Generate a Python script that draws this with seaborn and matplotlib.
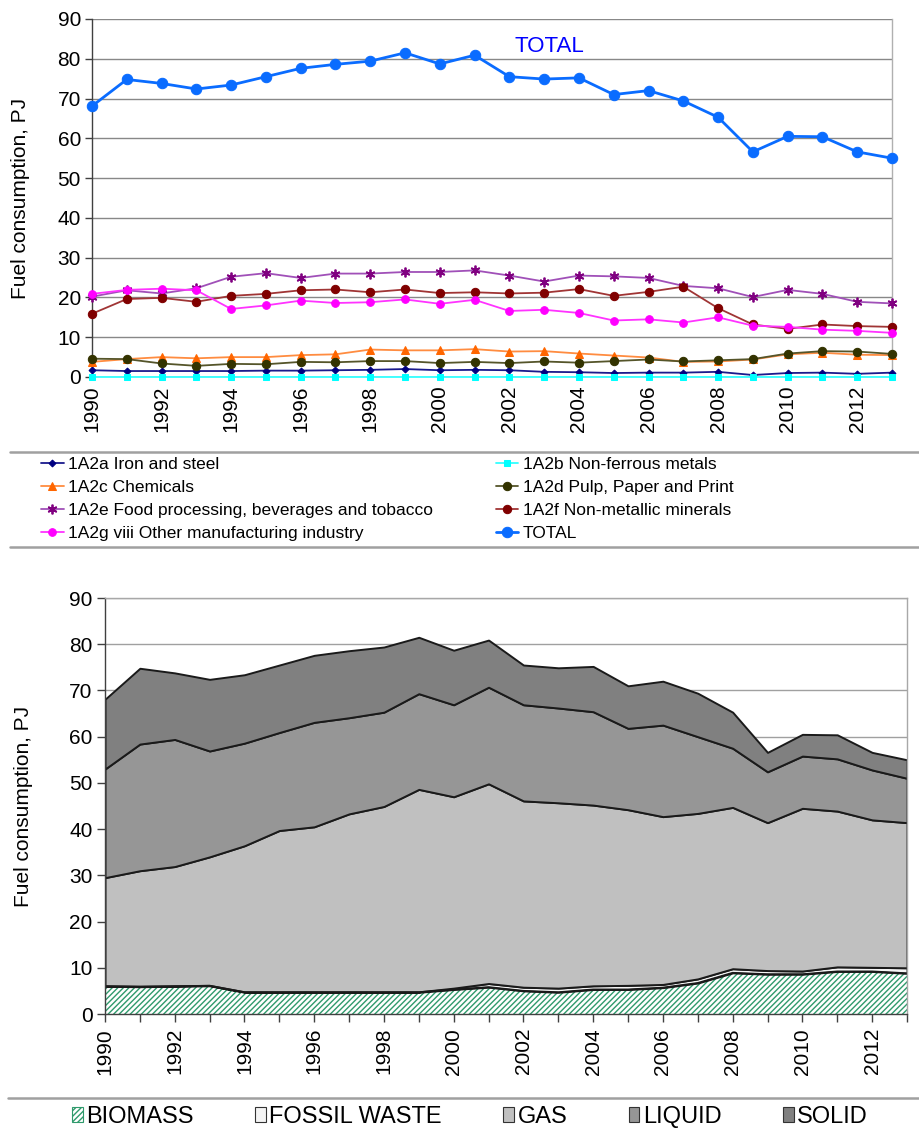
import numpy as np
import pandas as pd
import matplotlib
matplotlib.use("Agg")
import matplotlib.pyplot as plt
import seaborn as sns
from matplotlib.lines import Line2D

# ---------------- data ----------------
years = list(range(1990, 2014))

iron_steel = [1.7, 1.5, 1.5, 1.5, 1.5, 1.6, 1.6, 1.7, 1.8, 2.0, 1.7, 1.8, 1.7, 1.3, 1.2, 1.0, 1.1, 1.1, 1.3, 0.5, 1.0, 1.1, 0.8, 1.1]
non_ferrous = [0.1, 0.1, 0.1, 0.1, 0.1, 0.1, 0.1, 0.1, 0.1, 0.1, 0.1, 0.1, 0.1, 0.1, 0.1, 0.1, 0.1, 0.1, 0.1, 0.1, 0.1, 0.1, 0.1, 0.1]
chemicals = [3.8, 4.5, 5.0, 4.7, 5.0, 5.0, 5.5, 5.7, 6.9, 6.7, 6.7, 7.0, 6.4, 6.5, 5.9, 5.4, 4.9, 3.8, 3.9, 4.4, 5.7, 6.1, 5.6, 5.5]
pulp_paper = [4.6, 4.5, 3.4, 2.8, 3.3, 3.2, 3.8, 3.7, 4.0, 4.0, 3.5, 3.8, 3.5, 3.9, 3.6, 4.0, 4.4, 3.9, 4.2, 4.5, 5.9, 6.5, 6.4, 5.8]
food = [20.2, 21.8, 21.0, 22.3, 25.2, 26.1, 24.9, 26.0, 26.0, 26.4, 26.4, 26.8, 25.5, 24.0, 25.5, 25.3, 24.9, 22.9, 22.3, 20.1, 21.9, 20.9, 18.9, 18.5]
non_metallic = [15.9, 19.6, 19.9, 18.9, 20.4, 20.9, 21.8, 22.0, 21.3, 22.0, 21.1, 21.3, 21.0, 21.2, 22.1, 20.4, 21.4, 22.7, 17.3, 13.2, 12.1, 13.2, 12.8, 12.6]
other_manuf = [20.9, 21.9, 22.2, 21.8, 17.1, 18.0, 19.2, 18.6, 18.8, 19.5, 18.4, 19.4, 16.6, 16.9, 16.1, 14.2, 14.5, 13.7, 15.0, 12.9, 12.6, 11.9, 11.6, 11.1]
total = [68.1, 74.8, 73.8, 72.4, 73.4, 75.5, 77.6, 78.6, 79.4, 81.5, 78.7, 80.9, 75.5, 74.9, 75.2, 71.0, 72.0, 69.4, 65.3, 56.6, 60.5, 60.4, 56.6, 55.0]

biomass = [6.0, 5.9, 6.0, 6.1, 4.7, 4.7, 4.7, 4.7, 4.7, 4.7, 5.3, 5.8, 5.0, 4.7, 5.3, 5.3, 5.7, 6.7, 8.9, 8.6, 8.6, 9.2, 9.2, 8.8]
fossil_waste = [0.1, 0.1, 0.1, 0.1, 0.1, 0.1, 0.1, 0.1, 0.1, 0.1, 0.3, 0.8, 0.8, 0.9, 0.8, 0.9, 0.7, 0.9, 0.9, 0.8, 0.7, 1.0, 0.9, 1.2]
gas = [23.4, 25.0, 25.8, 27.8, 31.6, 34.9, 35.7, 38.5, 40.1, 43.8, 41.4, 43.2, 40.3, 40.1, 39.1, 38.0, 36.3, 35.8, 34.9, 32.0, 35.2, 33.7, 31.9, 31.4]
liquid = [23.5, 27.4, 27.5, 22.9, 22.2, 21.2, 22.6, 20.8, 20.4, 20.7, 19.9, 20.9, 20.8, 20.5, 20.2, 17.6, 19.8, 16.6, 12.8, 11.0, 11.3, 11.3, 10.8, 9.6]
solid = [15.1, 16.4, 14.4, 15.5, 14.8, 14.6, 14.5, 14.5, 14.1, 12.2, 11.8, 10.2, 8.6, 8.7, 9.8, 9.2, 9.5, 9.4, 7.8, 4.2, 4.7, 5.2, 3.8, 4.0]

year_ticks = list(range(1990, 2013, 2))
y_ticks = list(range(0, 91, 10))

# ---------------- style ----------------
sns.set_theme(style="white")
plt.rcParams["font.family"] = ["Liberation Sans", "DejaVu Sans"]
plt.rcParams["hatch.linewidth"] = 1.0
plt.rcParams["text.color"] = "black"
plt.rcParams["axes.labelcolor"] = "black"
plt.rcParams["xtick.color"] = "black"
plt.rcParams["ytick.color"] = "black"

fig = plt.figure(figsize=(9.19, 11.31), dpi=100)
W, H = 919, 1131

def fx(px):
    return px / W

def fy(py):
    return 1 - py / H

# ---------------- top chart ----------------
ax1 = fig.add_axes([fx(92), fy(377), fx(892) - fx(92), fy(19) - fy(377)])

series = [
    ("1A2a Iron and steel", iron_steel, dict(color="#1a1a8c", marker="D", markersize=3.5, mfc="#000080", mec="#000080", lw=1.3)),
    ("1A2b Non-ferrous metals", non_ferrous, dict(color="#33ffff", marker="s", markersize=5, mfc="#00ffff", mec="#00ffff", lw=1.3)),
    ("1A2c Chemicals", chemicals, dict(color="#ff8c40", marker="^", markersize=6, mfc="#ff6600", mec="#ff6600", lw=1.3)),
    ("1A2d Pulp, Paper and Print", pulp_paper, dict(color="#55552a", marker="o", markersize=6, mfc="#333300", mec="#333300", lw=1.3)),
    ("1A2e Food processing, beverages and tobacco", food, dict(color="#a050b8", marker=(6, 2, 0), markersize=7, mfc="#800080", mec="#800080", mew=1.3, lw=1.3)),
    ("1A2f Non-metallic minerals", non_metallic, dict(color="#a03535", marker="o", markersize=6, mfc="#800000", mec="#800000", lw=1.3)),
    ("1A2g viii Other manufacturing industry", other_manuf, dict(color="#ff33ff", marker="o", markersize=5.5, mfc="#ff00ff", mec="#ff00ff", lw=1.3)),
    ("TOTAL", total, dict(color="#0a6cff", marker="o", markersize=7.5, mfc="#0a6cff", mec="#0a6cff", lw=2.0)),
]

for name, vals, kw in series:
    df = pd.DataFrame({"year": years, "value": vals})
    sns.lineplot(data=df, x="year", y="value", ax=ax1, label=name, legend=False,
                 clip_on=False, zorder=3, **kw)

if ax1.get_legend() is not None:
    ax1.get_legend().remove()

ax1.set_xlim(1990, 2013)
ax1.set_ylim(0, 90)
ax1.set_xticks(year_ticks)
ax1.set_xticklabels([str(y) for y in year_ticks], rotation=90, fontsize=15)
ax1.set_yticks(y_ticks)
ax1.set_yticklabels([str(v) for v in y_ticks], fontsize=15)
ax1.set_xlabel("")
ax1.set_ylabel("Fuel consumption, PJ", fontsize=15, color="black")
ax1.yaxis.set_label_coords(-0.078, 0.5)
ax1.grid(axis="y", color="#888888", lw=1.0)
ax1.set_axisbelow(True)
for s in ["top", "bottom"]:
    ax1.spines[s].set_visible(False)
ax1.spines["left"].set_color("#404040")
ax1.spines["left"].set_linewidth(1.0)
ax1.spines["right"].set_color("#b0b0b0")
ax1.spines["right"].set_linewidth(1.0)
ax1.tick_params(axis="y", left=True, length=5, width=1, color="#404040", pad=3, labelcolor="black")
ax1.tick_params(axis="x", bottom=False, length=0, pad=6, labelcolor="black")
ax1.text(2002.15, 83.0, "TOTAL", color="#0000ff", fontsize=16, va="center", ha="left")

handles, labels = ax1.get_legend_handles_labels()
order = [0, 2, 4, 6, 1, 3, 5, 7]
fig.legend([handles[i] for i in order], [labels[i] for i in order],
           loc="upper left", bbox_to_anchor=(fx(36), fy(452)), ncol=2, frameon=False,
           fontsize=12.5, handlelength=1.3, handletextpad=0.25, columnspacing=3.6,
           labelspacing=0.45, borderaxespad=0, borderpad=0.3)

fig.add_artist(Line2D([fx(10), fx(919)], [fy(452), fy(452)], color="#a0a0a0", lw=1.8))
fig.add_artist(Line2D([fx(10), fx(919)], [fy(547), fy(547)], color="#a0a0a0", lw=1.8))

# ---------------- bottom chart ----------------
ax2 = fig.add_axes([fx(105), fy(1014), fx(907) - fx(105), fy(598) - fy(1014)])
layer_names = ["BIOMASS", "FOSSIL WASTE", "GAS", "LIQUID", "SOLID"]
layer_colors = ["#ffffff", "#f4f4f4", "#c0c0c0", "#969696", "#808080"]
polys = ax2.stackplot(years, biomass, fossil_waste, gas, liquid, solid,
                      labels=layer_names, colors=layer_colors,
                      edgecolor="#1a1a1a", linewidth=1.4)
polys[0].set_hatch("//////")
polys[0].set_edgecolor("#2f9a6c")
polys[0].set_linewidth(0)
sns.lineplot(x=years, y=biomass, ax=ax2, color="#1a1a1a", lw=1.4, legend=False)
if ax2.get_legend() is not None:
    ax2.get_legend().remove()

ax2.set_xlim(1990, 2013)
ax2.set_ylim(0, 90)
ax2.set_xticks(years, minor=True)
ax2.set_xticks(year_ticks)
ax2.set_xticklabels([str(y) for y in year_ticks], rotation=90, fontsize=15)
ax2.set_yticks(y_ticks)
ax2.set_yticklabels([str(v) for v in y_ticks], fontsize=15)
ax2.set_ylabel("Fuel consumption, PJ", fontsize=15, color="black")
ax2.yaxis.set_label_coords(-0.09, 0.5)
ax2.grid(axis="y", color="#a0a0a0", lw=1.0)
ax2.set_axisbelow(True)
for s in ["top", "right"]:
    ax2.spines[s].set_color("#a8a8a8")
    ax2.spines[s].set_linewidth(1.0)
for s in ["left", "bottom"]:
    ax2.spines[s].set_color("#404040")
    ax2.spines[s].set_linewidth(1.0)
ax2.tick_params(axis="x", which="both", bottom=True, length=6, width=1, color="#404040", pad=4, labelcolor="black")
ax2.tick_params(axis="y", left=True, length=6, width=1, color="#404040", pad=3, labelcolor="black")

h2, l2 = ax2.get_legend_handles_labels()
h2 = [h for h, l in zip(h2, l2) if l in layer_names]
l2 = [l for l in l2 if l in layer_names]
leg2 = fig.legend(h2, l2, loc="center", bbox_to_anchor=(fx(470), fy(1117)), ncol=5, frameon=False,
                  fontsize=17, handlelength=0.45, handleheight=0.6, handletextpad=0.15,
                  columnspacing=2.6, borderaxespad=0)
for p in leg2.get_patches():
    p.set_edgecolor("#333333")
    p.set_linewidth(0.8)
leg2.get_patches()[0].set_edgecolor("#2f9a6c")

fig.add_artist(Line2D([fx(8), fx(919)], [fy(1097.5), fy(1097.5)], color="#a0a0a0", lw=1.8))

fig.savefig("out.png", dpi=100, facecolor="white")
